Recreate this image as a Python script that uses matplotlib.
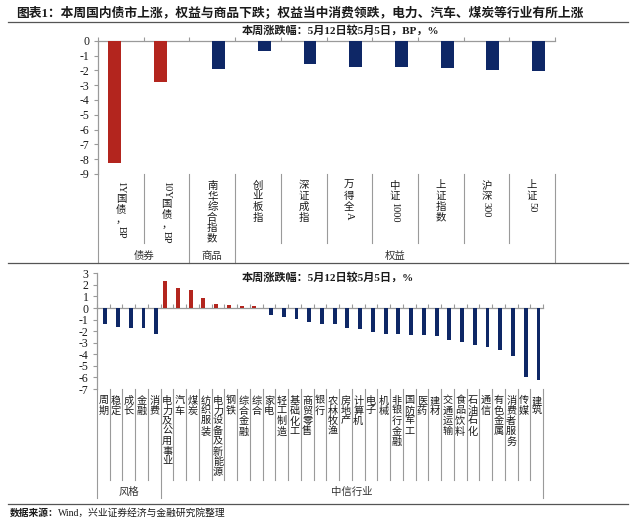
import re
import numpy as np
import matplotlib
matplotlib.use('Agg')
import matplotlib.pyplot as plt
from matplotlib.lines import Line2D
from matplotlib.textpath import TextPath
from matplotlib.font_manager import FontProperties
from matplotlib.transforms import blended_transform_factory

plt.rcParams['font.family'] = ['Liberation Serif', 'Noto Sans CJK SC']
plt.rcParams['axes.unicode_minus'] = False

# 上图：大类资产
top_labels = ['1Y国债，BP', '10Y国债，BP', '南华综合指数', '创业板指', '深证成指',
              '万得全A', '中证1000', '上证指数', '沪深300', '上证50']
top_values = [-8.24, -2.79, -1.91, -0.67, -1.55, -1.75, -1.78, -1.87, -1.98, -2.03]
top_groups = ['债券', '债券', '商品', '权益', '权益', '权益', '权益', '权益', '权益', '权益']

# 下图：风格与中信行业
bottom_labels = ['周期', '稳定', '成长', '金融', '消费',
                 '电力及公用事业', '汽车', '煤炭', '纺织服装', '电力设备及新能源', '钢铁',
                 '综合金融', '综合', '家电', '轻工制造', '基础化工', '商贸零售', '银行',
                 '农林牧渔', '房地产', '计算机', '电子', '机械', '非银行金融', '国防军工',
                 '医药', '建材', '交通运输', '食品饮料', '石油石化', '通信', '有色金属',
                 '消费者服务', '传媒', '建筑']
bottom_values = [-1.35, -1.67, -1.75, -1.75, -2.24,
                 2.30, 1.76, 1.53, 0.84, 0.38, 0.23, 0.20, 0.14,
                 -0.58, -0.80, -0.98, -1.21, -1.35, -1.41, -1.75, -1.84, -2.04,
                 -2.21, -2.21, -2.36, -2.36, -2.42, -2.77, -2.96, -3.22, -3.37,
                 -3.60, -4.17, -5.99, -6.19]
bottom_groups = ['风格'] * 5 + ['中信行业'] * 30

RED = '#B3251E'
BLUE = '#0E2766'
LINE = '#9A9A9A'
TXT = '#1A1A1A'
W, H = 640, 525

fig = plt.figure(figsize=(6.4, 5.25), dpi=100)


def fx(p):
    return p / W


def fy(p):
    return 1 - p / H


def hline(y, x0=8, x1=628, color='#555555', lw=0.9):
    fig.add_artist(Line2D([fx(x0), fx(x1)], [fy(y), fy(y)], transform=fig.transFigure,
                          color=color, lw=lw))


def vtext(ax, trans, x, top, s, fs, pitch):
    # 竖排文字：汉字直立，英文数字旋转
    y = top
    for run in re.findall(r'[A-Za-z0-9%.]+|.', s):
        if re.match(r'[A-Za-z0-9]', run):
            wpt = TextPath((0, 0), run, size=fs,
                           prop=FontProperties(family='Liberation Serif')).get_extents().width
            ax.text(x, fy(y), run, rotation=-90, ha='center', va='top', fontsize=fs,
                    transform=trans, color=TXT)
            y += wpt * 100 / 72 + 2
        else:
            ax.text(x, fy(y), run, ha='center', va='top', fontsize=fs, transform=trans,
                    color=TXT)
            y += pitch


def spans(groups):
    out = []
    start = 0
    for i in range(1, len(groups) + 1):
        if i == len(groups) or groups[i] != groups[start]:
            out.append((groups[start], start, i - 1))
            start = i
    return out


def panel(px_box, labels, values, groups, red_mask, ylim, w, lab_top, pitch, fs,
          sep_end, grp_end, grp_y):
    left, top, right, bottom = px_box
    ax = fig.add_axes([fx(left), fy(bottom), (right - left) / W, (bottom - top) / H])
    n = len(labels)
    x = np.arange(n)
    vals = np.array(values, dtype=float)
    red_mask = np.array(red_mask)
    ax.bar(x - w / 2, np.where(red_mask, vals, np.nan), w, color=RED, zorder=3)
    ax.bar(x + w / 2, np.where(~red_mask, vals, np.nan), w, color=BLUE, zorder=3)
    ax.set_xlim(-0.5, n - 0.5)
    ax.set_ylim(*ylim)
    ax.set_yticks(range(ylim[1], ylim[0] - 1, -1))
    ax.set_xticks(np.arange(n + 1) - 0.5)
    ax.set_xticklabels([])
    for sp in ['top', 'right']:
        ax.spines[sp].set_visible(False)
    ax.spines['bottom'].set_position(('data', 0))
    for sp in ['left', 'bottom']:
        ax.spines[sp].set_color(LINE)
        ax.spines[sp].set_linewidth(0.9)
    ax.tick_params(axis='x', direction='in', length=3, color=LINE, width=0.8)
    ax.tick_params(axis='y', direction='out', length=3, color=LINE, width=0.8,
                   labelsize=8.5, labelcolor=TXT, pad=3)
    ax.patch.set_visible(False)

    trans = blended_transform_factory(ax.transData, fig.transFigure)
    group_bounds = set()
    for _, a, b in spans(groups):
        group_bounds.add(a - 0.5)
        group_bounds.add(b + 0.5)
    for bnd in np.arange(n + 1) - 0.5:
        end = grp_end if bnd in group_bounds else sep_end
        ax.plot([bnd, bnd], [fy(bottom), fy(end)], transform=trans, clip_on=False,
                color=LINE, lw=0.8)
    for i, lab in enumerate(labels):
        vtext(ax, trans, i, lab_top, lab, fs, pitch)
    for name, a, b in spans(groups):
        ax.text((a + b) / 2, fy(grp_y), name, ha='center', va='center', fontsize=7.5,
                transform=trans, color='#333333')
    return ax


# 标题
fig.text(fx(16), fy(13), '图表1：本周国内债市上涨，权益与商品下跌；权益当中消费领跌，电力、汽车、煤炭等行业有所上涨',
         fontsize=9.2, fontweight='bold', ha='left', va='center', color=TXT)
hline(22)

# 上图
panel((98, 40.7, 555, 174), top_labels, top_values, top_groups,
      [g == '债券' for g in top_groups], (-9, 0), 0.28,
      lab_top=181, pitch=10.5, fs=7.5, sep_end=243, grp_end=263, grp_y=256)
fig.text(fx(242), fy(30.5), '本周涨跌幅：5月12日较5月5日，BP，%', fontsize=8,
         fontweight='bold', ha='left', va='center', color=TXT)
hline(263)

# 下图
panel((97, 273.3, 543, 389), bottom_labels, bottom_values, bottom_groups,
      [v > 0 for v in bottom_values], (-7, 3), 0.3,
      lab_top=396, pitch=10.2, fs=7.3, sep_end=480, grp_end=498, grp_y=492)
fig.text(fx(242), fy(277), '本周涨跌幅：5月12日较5月5日，%', fontsize=8,
         fontweight='bold', ha='left', va='center', color=TXT)
hline(504)

# 数据来源
fig.text(fx(10), fy(513), '数据来源：', fontsize=7, fontweight='bold', ha='left',
         va='center', color=TXT)
fig.text(fx(58), fy(513), 'Wind，兴业证券经济与金融研究院整理', fontsize=7, ha='left',
         va='center', color=TXT)

fig.savefig('out.png', dpi=100)
